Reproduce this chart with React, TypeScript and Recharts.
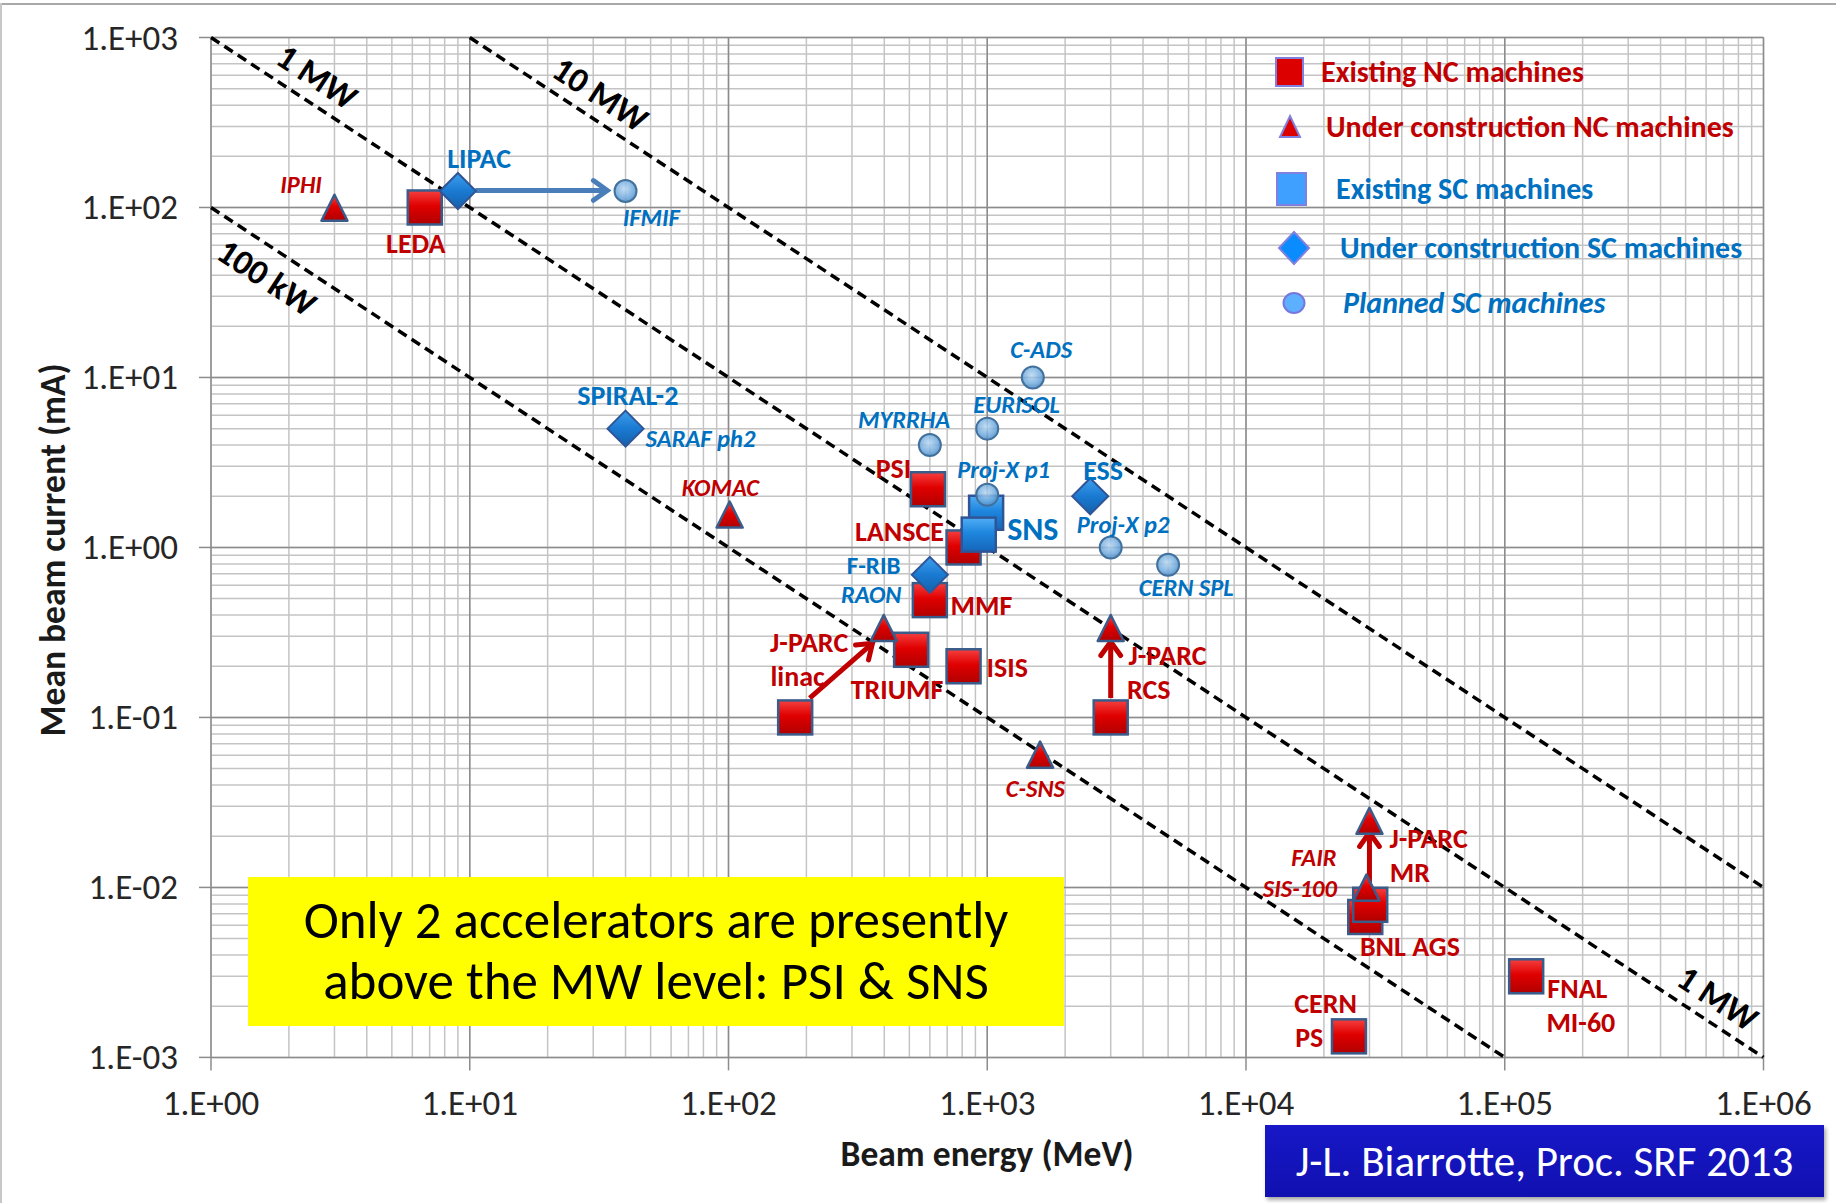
import React from 'react';
import { ScatterChart, Scatter, XAxis, YAxis, CartesianGrid, ReferenceLine } from 'recharts';

const FONT = "Carlito, Lato, 'Open Sans', sans-serif";
const W = 1836;
const H = 1203;
const RED = '#C00000';
const BLUE = '#0070C0';

// ---------- data ----------
const xTickLabels = ['1.E+00', '1.E+01', '1.E+02', '1.E+03', '1.E+04', '1.E+05', '1.E+06'];
const yTickLabels = ['1.E-03', '1.E-02', '1.E-01', '1.E+00', '1.E+01', '1.E+02', '1.E+03'];

const seriesNames = [
  'Existing NC machines',
  'Under construction NC machines',
  'Existing SC machines',
  'Under construction SC machines',
  'Planned SC machines',
];

const existingNC = [
  { name: 'LEDA', energy: 6.7, current: 100 },
  { name: 'PSI', energy: 590, current: 2.2 },
  { name: 'LANSCE', energy: 810, current: 1.0 },
  { name: 'MMF', energy: 600, current: 0.49 },
  { name: 'TRIUMF', energy: 508, current: 0.25 },
  { name: 'ISIS', energy: 810, current: 0.2 },
  { name: 'J-PARC linac', energy: 181, current: 0.1 },
  { name: 'J-PARC RCS', energy: 3000, current: 0.1 },
  { name: 'BNL AGS', energy: 28900, current: 0.0067 },
  { name: 'J-PARC MR', energy: 30200, current: 0.0079 },
  { name: 'CERN PS', energy: 25000, current: 0.00133 },
  { name: 'FNAL MI-60', energy: 121000, current: 0.003 },
];

const constructionNC = [
  { name: 'IPHI', energy: 3, current: 97 },
  { name: 'KOMAC', energy: 101, current: 1.52 },
  { name: 'J-PARC linac', energy: 398, current: 0.327 },
  { name: 'C-SNS', energy: 1600, current: 0.0588 },
  { name: 'J-PARC RCS', energy: 3000, current: 0.327 },
  { name: 'FAIR SIS-100', energy: 29200, current: 0.0097 },
  { name: 'J-PARC MR', energy: 30000, current: 0.024 },
];

const existingSC = [
  { name: 'SNS', energy: 990, current: 1.6 },
  { name: 'SNS', energy: 927, current: 1.19 },
];

const constructionSC = [
  { name: 'LIPAC', energy: 9, current: 125 },
  { name: 'SPIRAL-2', energy: 40, current: 5 },
  { name: 'F-RIB / RAON', energy: 600, current: 0.69 },
  { name: 'ESS', energy: 2500, current: 2.0 },
];

const plannedSC = [
  { name: 'IFMIF', energy: 40, current: 125 },
  { name: 'C-ADS', energy: 1500, current: 10 },
  { name: 'EURISOL', energy: 1000, current: 5 },
  { name: 'MYRRHA', energy: 600, current: 4 },
  { name: 'Proj-X p1', energy: 1000, current: 2.04 },
  { name: 'Proj-X p2', energy: 3000, current: 1 },
  { name: 'CERN SPL', energy: 5000, current: 0.79 },
];

// beam power in kW (MeV x mA)
const powerLines = [
  { name: '100 kW', kW: 100 },
  { name: '1 MW', kW: 1000 },
  { name: '10 MW', kW: 10000 },
];

const powerLabels = [
  { text: '1 MW', energy: 2.57, current: 588 },
  { text: '10 MW', energy: 32, current: 464 },
  { text: '100 kW', energy: 1.645, current: 38.7 },
  { text: '1 MW', energy: 666800, current: 0.00223 },
];

// text labels anchored in (energy, current); kind: NC = red, SC = blue; it = italic
const machineLabels = [
  { text: 'LEDA', energy: 6.19, current: 61.3, kind: 'NC', it: false },
  { text: 'PSI', energy: 434, current: 2.92, kind: 'NC', it: false },
  { text: 'LANSCE', energy: 458, current: 1.249, kind: 'NC', it: false },
  { text: 'MMF', energy: 949, current: 0.456, kind: 'NC', it: false },
  { text: 'TRIUMF', energy: 448, current: 0.1456, kind: 'NC', it: false },
  { text: 'ISIS', energy: 1194, current: 0.197, kind: 'NC', it: false },
  { text: 'J-PARC', energy: 205, current: 0.275, kind: 'NC', it: false },
  { text: 'linac', energy: 185, current: 0.173, kind: 'NC', it: false },
  { text: 'J-PARC', energy: 4977, current: 0.231, kind: 'NC', it: false },
  { text: 'RCS', energy: 4210, current: 0.1456, kind: 'NC', it: false },
  { text: 'J-PARC', energy: 50800, current: 0.0194, kind: 'NC', it: false },
  { text: 'MR', energy: 43000, current: 0.01227, kind: 'NC', it: false },
  { text: 'BNL AGS', energy: 43000, current: 0.00452, kind: 'NC', it: false },
  { text: 'CERN', energy: 20300, current: 0.002075, kind: 'NC', it: false },
  { text: 'PS', energy: 17550, current: 0.00131, kind: 'NC', it: false },
  { text: 'FNAL', energy: 190900, current: 0.002553, kind: 'NC', it: false },
  { text: 'MI-60', energy: 196800, current: 0.00161, kind: 'NC', it: false },
  { text: 'IPHI', energy: 2.23, current: 135.5, kind: 'NC', it: true },
  { text: 'KOMAC', energy: 93, current: 2.23, kind: 'NC', it: true },
  { text: 'C-SNS', energy: 1534, current: 0.0378, kind: 'NC', it: true },
  { text: 'FAIR', energy: 18300, current: 0.01483, kind: 'NC', it: true },
  { text: 'SIS-100', energy: 16150, current: 0.00982, kind: 'NC', it: true },
  { text: 'LIPAC', energy: 10.87, current: 195, kind: 'SC', it: false },
  { text: 'SPIRAL-2', energy: 40.8, current: 7.8, kind: 'SC', it: false },
  { text: 'F-RIB', energy: 364, current: 0.788, kind: 'SC', it: false },
  { text: 'SNS', energy: 1500, current: 1.28, kind: 'SC', it: false },
  { text: 'ESS', energy: 2805, current: 2.83, kind: 'SC', it: false },
  { text: 'IFMIF', energy: 50.3, current: 86.9, kind: 'SC', it: true },
  { text: 'SARAF ph2', energy: 77.9, current: 4.34, kind: 'SC', it: true },
  { text: 'MYRRHA', energy: 477, current: 5.59, kind: 'SC', it: true },
  { text: 'EURISOL', energy: 1298, current: 6.87, kind: 'SC', it: true },
  { text: 'C-ADS', energy: 1615, current: 14.5, kind: 'SC', it: true },
  { text: 'Proj-X p1', energy: 1157, current: 2.87, kind: 'SC', it: true },
  { text: 'Proj-X p2', energy: 3350, current: 1.36, kind: 'SC', it: true },
  { text: 'CERN SPL', energy: 5875, current: 0.578, kind: 'SC', it: true },
  { text: 'RAON', energy: 356, current: 0.522, kind: 'SC', it: true },
];

const arrows = [
  { kind: 'SC', from: { energy: 10.5, current: 126 }, to: { energy: 34, current: 126 } },
  { kind: 'NC', from: { energy: 206, current: 0.13 }, to: { energy: 360, current: 0.273 } },
  { kind: 'NC', from: { energy: 3000, current: 0.13 }, to: { energy: 3000, current: 0.279 } },
  { kind: 'NC', from: { energy: 30000, current: 0.0101 }, to: { energy: 30000, current: 0.021 } },
];

const noteLines = ['Only 2 accelerators are presently', 'above the MW level: PSI & SNS'];
const creditText = 'J-L. Biarrotte, Proc. SRF 2013';

// ---------- derived ticks ----------
const X_MAJOR = xTickLabels.map(Number);
const Y_MAJOR = yTickLabels.map(Number);
const withMinor = (maj: number[]) => {
  const out: number[] = [];
  maj.forEach((v, i) => {
    out.push(v);
    if (i < maj.length - 1) for (let m = 2; m <= 9; m++) out.push(v * m);
  });
  return out;
};
const X_TICKS = withMinor(X_MAJOR);
const Y_TICKS = withMinor(Y_MAJOR);
const X_MIN = X_MAJOR[0], X_MAX = X_MAJOR[X_MAJOR.length - 1];
const Y_MIN = Y_MAJOR[0], Y_MAX = Y_MAJOR[Y_MAJOR.length - 1];

// ---------- tick renderers ----------
const TICK_FS = 35;
const XTick = (p: any) => {
  const i = X_MAJOR.indexOf(p.payload.value);
  if (i < 0) return <g />;
  return (
    <g>
      <line x1={p.x} x2={p.x} y1={p.y} y2={p.y + 13} stroke="#8C8C8C" strokeWidth={1.5} />
      <text x={p.x} y={p.y + 46} textAnchor="middle" dominantBaseline="central" fontSize={TICK_FS} fill="#262626" fontFamily={FONT}>
        {xTickLabels[i]}
      </text>
    </g>
  );
};
const YTick = (p: any) => {
  const i = Y_MAJOR.indexOf(p.payload.value);
  if (i < 0) return <g />;
  return (
    <g>
      <line x1={p.x - 12} x2={p.x} y1={p.y} y2={p.y} stroke="#8C8C8C" strokeWidth={1.5} />
      <text x={p.x - 33} y={p.y} textAnchor="end" dominantBaseline="central" fontSize={TICK_FS} fill="#262626" fontFamily={FONT}>
        {yTickLabels[i]}
      </text>
    </g>
  );
};

// ---------- marker shapes ----------
const MSTROKE = '#3A5C8A';
const RedSquare = (p: any) => (
  <rect x={p.cx - 17} y={p.cy - 17} width={34} height={34} fill="url(#gRed)" stroke={MSTROKE} strokeWidth={2.5} />
);
const RedTriangle = (p: any) => (
  <polygon points={`${p.cx},${p.cy - 15} ${p.cx + 13},${p.cy + 11} ${p.cx - 13},${p.cy + 11}`} fill="url(#gRed)" stroke={MSTROKE} strokeWidth={2.5} strokeLinejoin="round" />
);
const BlueSquare = (p: any) => (
  <rect x={p.cx - 17} y={p.cy - 17} width={34} height={34} fill="url(#gBlue)" stroke="#2F5597" strokeWidth={2.5} />
);
const Diamond = (p: any) => (
  <polygon points={`${p.cx},${p.cy - 18} ${p.cx + 18},${p.cy} ${p.cx},${p.cy + 18} ${p.cx - 18},${p.cy}`} fill="url(#gDia)" stroke="#2F5597" strokeWidth={2} />
);
const Circle = (p: any) => (
  <circle cx={p.cx} cy={p.cy} r={11} fill="url(#gCirc)" fillOpacity={0.85} stroke="#41719C" strokeWidth={2} />
);

const labelSize = (t: string, it: boolean) => {
  if (t === 'SNS') return 32;
  if (t === 'F-RIB') return 25;
  return it ? 24.5 : 28;
};

const LabelShape = (p: any) => {
  const d = p.payload;
  return (
    <text
      x={p.cx}
      y={p.cy}
      textAnchor="middle"
      dominantBaseline="central"
      fontFamily={FONT}
      fontWeight="bold"
      fontStyle={d.it ? 'italic' : 'normal'}
      fontSize={labelSize(d.text, d.it)}
      fill={d.kind === 'NC' ? RED : BLUE}
    >
      {d.text}
    </text>
  );
};

const PowerLabelShape = (p: any) => (
  <text
    x={p.cx}
    y={p.cy}
    textAnchor="middle"
    dominantBaseline="central"
    fontFamily={FONT}
    fontWeight="bold"
    fontSize={35}
    fill="#000"
    transform={`rotate(33.3 ${p.cx} ${p.cy})`}
  >
    {p.payload.text}
  </text>
);

const arrowShape = (color: string) => (p: any) => {
  const { x1, y1, x2, y2 } = p;
  const ang = Math.atan2(y2 - y1, x2 - x1);
  const h = 17;
  const spread = 0.62;
  const ax = x2 - h * Math.cos(ang - spread);
  const ay = y2 - h * Math.sin(ang - spread);
  const bx = x2 - h * Math.cos(ang + spread);
  const by = y2 - h * Math.sin(ang + spread);
  return (
    <g>
      <line x1={x1} y1={y1} x2={x2 - 2 * Math.cos(ang)} y2={y2 - 2 * Math.sin(ang)} stroke={color} strokeWidth={5} />
      <polyline points={`${ax},${ay} ${x2},${y2} ${bx},${by}`} fill="none" stroke={color} strokeWidth={5} strokeLinejoin="miter" strokeLinecap="round" />
    </g>
  );
};

// legend marker icons
const LegendIcon = ({ i }: { i: number }) => {
  if (i === 0)
    return (
      <svg width={32} height={32}><rect x={2} y={2} width={27} height={28} fill="#DD0000" stroke="#8080E0" strokeWidth={2} /></svg>
    );
  if (i === 1)
    return (
      <svg width={32} height={32}><polygon points="16,5 26,26 6,26" fill="#DD0000" stroke="#8080E0" strokeWidth={2} /></svg>
    );
  if (i === 2)
    return (
      <svg width={34} height={36}><rect x={2} y={2} width={29} height={32} fill="#3FA0FF" stroke="#8080E0" strokeWidth={2} /></svg>
    );
  if (i === 3)
    return (
      <svg width={36} height={36}><polygon points="18,2 33,18 18,34 3,18" fill="#0A8CFF" stroke="#8080E0" strokeWidth={2} /></svg>
    );
  return (
    <svg width={26} height={26}><ellipse cx={13} cy={13} rx={10.5} ry={10} fill="#5CB0FF" stroke="#7777DD" strokeWidth={2} /></svg>
  );
};

const legendLayout = [
  { mx: 1290, my: 72, tx: 1321 },
  { mx: 1290, my: 126.5, tx: 1326 },
  { mx: 1292, my: 189, tx: 1336 },
  { mx: 1294, my: 247.5, tx: 1340 },
  { mx: 1294, my: 303, tx: 1343 },
];

export default function App() {
  return (
    <div style={{ position: 'absolute', left: 0, top: 0, width: W, height: H, background: '#fff', fontFamily: FONT, overflow: 'hidden' }}>
      <svg width={0} height={0} style={{ position: 'absolute' }}>
        <defs>
          <linearGradient id="gRed" x1="0" y1="0" x2="0" y2="1">
            <stop offset="0%" stopColor="#F54040" />
            <stop offset="45%" stopColor="#E00000" />
            <stop offset="100%" stopColor="#B00000" />
          </linearGradient>
          <linearGradient id="gBlue" x1="0" y1="0" x2="0" y2="1">
            <stop offset="0%" stopColor="#50ADF5" />
            <stop offset="45%" stopColor="#1E86DE" />
            <stop offset="100%" stopColor="#1566B8" />
          </linearGradient>
          <linearGradient id="gDia" x1="0" y1="0" x2="0" y2="1">
            <stop offset="0%" stopColor="#3E9EEC" />
            <stop offset="50%" stopColor="#1A7AD2" />
            <stop offset="100%" stopColor="#1460AA" />
          </linearGradient>
          <radialGradient id="gCirc" cx="0.45" cy="0.4" r="0.6">
            <stop offset="0%" stopColor="#B9D8F2" />
            <stop offset="70%" stopColor="#6EA8DC" />
            <stop offset="100%" stopColor="#4F8CC8" />
          </radialGradient>
        </defs>
      </svg>

      <ScatterChart width={W} height={H} margin={{ top: 37.5, right: 72.5, bottom: 45.6, left: 31 }}>
        <CartesianGrid stroke="#C4C4C4" strokeWidth={1.5} />
        <XAxis
          type="number"
          dataKey="energy"
          scale="log"
          domain={[X_MIN, X_MAX]}
          ticks={X_TICKS}
          interval={0}
          allowDataOverflow
          tick={XTick}
          tickLine={false}
          axisLine={false}
          tickSize={0}
          tickMargin={0}
          height={100}
        />
        <YAxis
          type="number"
          dataKey="current"
          scale="log"
          domain={[Y_MIN, Y_MAX]}
          ticks={Y_TICKS}
          interval={0}
          allowDataOverflow
          tick={YTick}
          tickLine={false}
          axisLine={false}
          tickSize={0}
          tickMargin={0}
          width={180}
        />
        {X_MAJOR.map((v) => (
          <ReferenceLine key={'gx' + v} x={v} stroke="#8C8C8C" strokeWidth={1.5} ifOverflow="visible" />
        ))}
        {Y_MAJOR.map((v) => (
          <ReferenceLine key={'gy' + v} y={v} stroke="#8C8C8C" strokeWidth={1.5} ifOverflow="visible" />
        ))}
        {powerLines.map((pl) => {
          const x0 = Math.max(X_MIN, pl.kW / Y_MAX);
          const x1 = Math.min(X_MAX, pl.kW / Y_MIN);
          return (
            <ReferenceLine
              key={pl.name}
              segment={[
                { x: x0, y: pl.kW / x0 },
                { x: x1, y: pl.kW / x1 },
              ]}
              stroke="#000"
              strokeWidth={3.5}
              strokeDasharray="10 6"
              ifOverflow="visible"
            />
          );
        })}
        {arrows.map((a, i) => (
          <ReferenceLine
            key={'ar' + i}
            segment={[
              { x: a.from.energy, y: a.from.current },
              { x: a.to.energy, y: a.to.current },
            ]}
            ifOverflow="visible"
            shape={arrowShape(a.kind === 'NC' ? '#C00000' : '#4A7EBB')}
          />
        ))}
        <Scatter name={seriesNames[0]} data={existingNC} shape={RedSquare} isAnimationActive={false} />
        <Scatter name={seriesNames[1]} data={constructionNC} shape={RedTriangle} isAnimationActive={false} />
        <Scatter name={seriesNames[2]} data={existingSC} shape={BlueSquare} isAnimationActive={false} />
        <Scatter name={seriesNames[3]} data={constructionSC} shape={Diamond} isAnimationActive={false} />
        <Scatter name={seriesNames[4]} data={plannedSC} shape={Circle} isAnimationActive={false} />
        <Scatter name="labels" data={machineLabels} shape={LabelShape} isAnimationActive={false} />
        <Scatter name="power labels" data={powerLabels} shape={PowerLabelShape} isAnimationActive={false} />
      </ScatterChart>

      {/* frame lines */}
      <div style={{ position: 'absolute', left: 0, top: 3, width: W, height: 2, background: '#A8A8A8' }} />
      <div style={{ position: 'absolute', left: 0, top: 3, width: 2, height: H, background: '#C8C8C8' }} />

      {/* legend */}
      {seriesNames.map((n, i) => {
        const L = legendLayout[i];
        return (
          <React.Fragment key={n}>
            <div style={{ position: 'absolute', left: L.mx, top: L.my, transform: 'translate(-50%,-50%)', lineHeight: 0 }}>
              <LegendIcon i={i} />
            </div>
            <div
              style={{
                position: 'absolute',
                left: L.tx,
                top: L.my,
                transform: 'translateY(-50%)',
                whiteSpace: 'nowrap',
                fontWeight: 'bold',
                fontStyle: i === 4 ? 'italic' : 'normal',
                fontSize: 30,
                lineHeight: 1,
                color: i < 2 ? RED : BLUE,
              }}
            >
              {n}
            </div>
          </React.Fragment>
        );
      })}

      {/* axis titles */}
      <div style={{ position: 'absolute', left: 987, top: 1155, transform: 'translate(-50%,-50%)', fontWeight: 'bold', fontSize: 35.5, whiteSpace: 'nowrap', color: '#1a1a1a', lineHeight: 1 }}>
        Beam energy (MeV)
      </div>
      <div style={{ position: 'absolute', left: 54, top: 550, transform: 'translate(-50%,-50%) rotate(-90deg)', fontWeight: 'bold', fontSize: 35.5, whiteSpace: 'nowrap', color: '#1a1a1a', lineHeight: 1 }}>
        Mean beam current (mA)
      </div>

      {/* yellow note */}
      <div style={{ position: 'absolute', left: 248, top: 877, width: 816, height: 149, background: '#FFFF00' }}>
        {noteLines.map((t, i) => (
          <div key={i} style={{ position: 'absolute', left: 0, width: '100%', top: 43 + i * 61, transform: 'translateY(-50%)', textAlign: 'center', fontSize: 53, lineHeight: 1, color: '#000', whiteSpace: 'nowrap' }}>
            {t}
          </div>
        ))}
      </div>

      {/* credit box */}
      <div style={{ position: 'absolute', left: 1265, top: 1125, width: 559, height: 72, background: 'linear-gradient(#1818C8, #1010B0)', boxShadow: '2px 3px 4px rgba(0,0,0,0.35)', color: '#fff', fontSize: 43, display: 'flex', alignItems: 'center', justifyContent: 'center', whiteSpace: 'nowrap' }}>
        {creditText}
      </div>
    </div>
  );
}
